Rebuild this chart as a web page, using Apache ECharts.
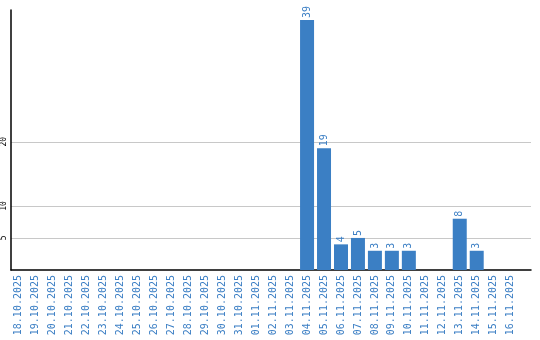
<!DOCTYPE html>
<html><head><meta charset="utf-8">
<script src="https://cdn.jsdelivr.net/npm/echarts@6/dist/echarts.min.js"></script>
<style>html,body{margin:0;padding:0;background:#fff}#c{width:540px;height:340px}</style>
</head><body><div id="c"></div>
<script>
const categories = ["18.10.2025","19.10.2025","20.10.2025","21.10.2025","22.10.2025","23.10.2025","24.10.2025","25.10.2025","26.10.2025","27.10.2025","28.10.2025","29.10.2025","30.10.2025","31.10.2025","01.11.2025","02.11.2025","03.11.2025","04.11.2025","05.11.2025","06.11.2025","07.11.2025","08.11.2025","09.11.2025","10.11.2025","11.11.2025","12.11.2025","13.11.2025","14.11.2025","15.11.2025","16.11.2025"];
const values = [0,0,0,0,0,0,0,0,0,0,0,0,0,0,0,0,0,39,19,4,5,3,3,3,0,0,8,3,0,0];
const yTicks = [5,10,20];
const idx = categories.map((c,i)=>i);
const chart = echarts.init(document.getElementById('c'));
chart.setOption({
  animation:false,
  grid:{left:10,right:9,top:10,bottom:70},
  xAxis:{type:'value',min:-0.45,max:30.2,
    splitLine:{show:false},
    axisLine:{show:true,onZero:false,lineStyle:{color:'#000',width:1.5}},
    axisTick:{show:false},
    axisLabel:{customValues:idx,formatter:v=>categories[Math.round(v)],rotate:90,color:'#3a7ec4',fontFamily:'DejaVu Sans Mono',fontSize:10,margin:5,showMinLabel:true,showMaxLabel:true}},
  yAxis:{type:'value',min:0,max:40.56,
    axisLine:{show:true,onZero:false,lineStyle:{color:'#000',width:1.5}},
    axisTick:{show:false,customValues:yTicks},
    axisLabel:{customValues:yTicks,rotate:90,color:'#000',fontFamily:'DejaVu Sans Mono',fontSize:8,margin:3},
    splitLine:{show:true,lineStyle:{color:'#c8c8c8',width:1}}},
  series:[{type:'bar',data:values.map((v,i)=>[i, v===0?null:v]),barWidth:14,
    itemStyle:{color:'#3b7fc4'},
    label:{show:true,position:'top',rotate:90,align:'left',verticalAlign:'middle',distance:2,color:'#3a7ec4',fontFamily:'DejaVu Sans Mono',fontSize:10}}]
});
</script></body></html>
